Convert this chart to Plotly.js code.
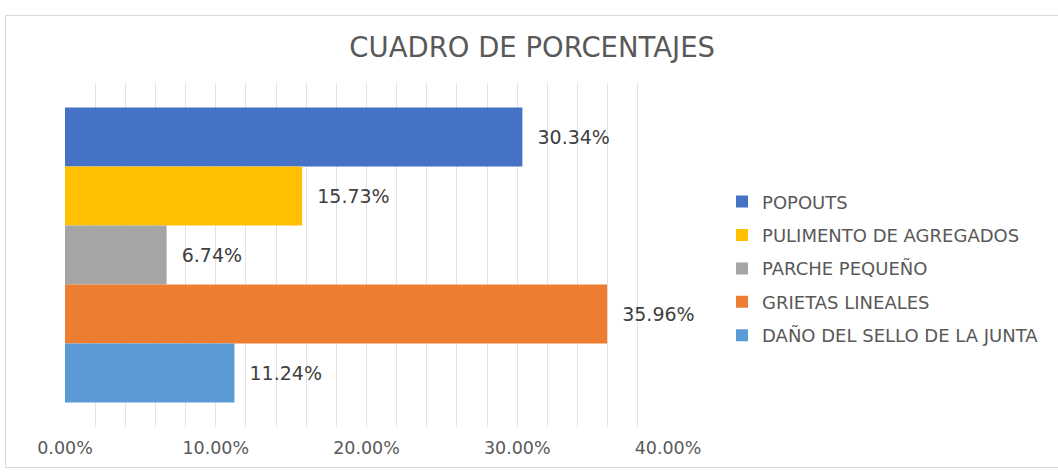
<!DOCTYPE html>
<html>
<head>
<meta charset="utf-8">
<script src="https://cdn.plot.ly/plotly-3.0.1.min.js"></script>
<style>
html,body{margin:0;padding:0;background:#fff;overflow:hidden;}
#wrap{position:relative;width:1058px;height:472px;}
#chart{width:1058px;height:472px;}
#frame{position:absolute;left:5px;top:15px;width:1100px;height:451px;border:1px solid #d9d9d9;pointer-events:none;}
</style>
</head>
<body>
<div id="wrap"><div id="chart"></div><div id="frame"></div></div>
<script>
const seriesNames = ["POPOUTS", "PULIMENTO DE AGREGADOS", "PARCHE PEQUEÑO", "GRIETAS LINEALES", "DAÑO DEL SELLO DE LA JUNTA"];
const seriesValues = [30.34, 15.73, 6.74, 35.96, 11.24];
const seriesColors = ["#4472C4", "#FFC000", "#A5A5A5", "#ED7D31", "#5B9BD5"];
const category = ["Total"];
const tickValues = [0, 10, 20, 30, 40];

const traces = seriesNames.map((name, i) => ({
  type: 'bar',
  orientation: 'h',
  name: name,
  y: category,
  x: [seriesValues[i]],
  marker: {color: seriesColors[i]},
  text: [seriesValues[i].toFixed(2) + '%'],
  texttemplate: '  %{text}',
  textposition: 'outside',
  cliponaxis: false,
  textfont: {family: 'DejaVu Sans', size: 19, color: '#404040'},
  legendgroup: 'g' + i,
  hoverinfo: 'skip'
}));

const layout = {
  width: 1058, height: 472,
  margin: {l: 65, r: 390, t: 83, b: 45},
  paper_bgcolor: '#fff', plot_bgcolor: '#fff',
  title: {text: 'CUADRO DE PORCENTAJES', x: 0.503, xanchor: 'center', y: 0.90, yanchor: 'middle',
          font: {family: 'DejaVu Sans', size: 27.5, color: '#595959'}},
  barmode: 'group',
  bargap: 0.142,
  bargroupgap: 0,
  showlegend: true,
  legend: {x: 1.0896, xanchor: 'left', y: 0.461, yanchor: 'middle', traceorder: 'grouped',
           tracegroupgap: 7,
           font: {family: 'DejaVu Sans', size: 18, color: '#595959'}},
  xaxis: {range: [0, 40], tickvals: tickValues, ticktext: tickValues.map(v => v.toFixed(2) + '%'),
          showgrid: true, gridcolor: '#e3e3e3', gridwidth: 1,
          minor: {dtick: 2, showgrid: true, gridcolor: '#e3e3e3', gridwidth: 1},
          zeroline: false, showline: false, ticks: '', ticklabelstandoff: 8,
          tickfont: {family: 'DejaVu Sans', size: 17.5, color: '#595959'}},
  yaxis: {autorange: 'reversed', showticklabels: false, showgrid: false, zeroline: false, showline: false, ticks: ''}
};

Plotly.newPlot('chart', traces, layout, {displayModeBar: false, staticPlot: true});
</script>
</body>
</html>
